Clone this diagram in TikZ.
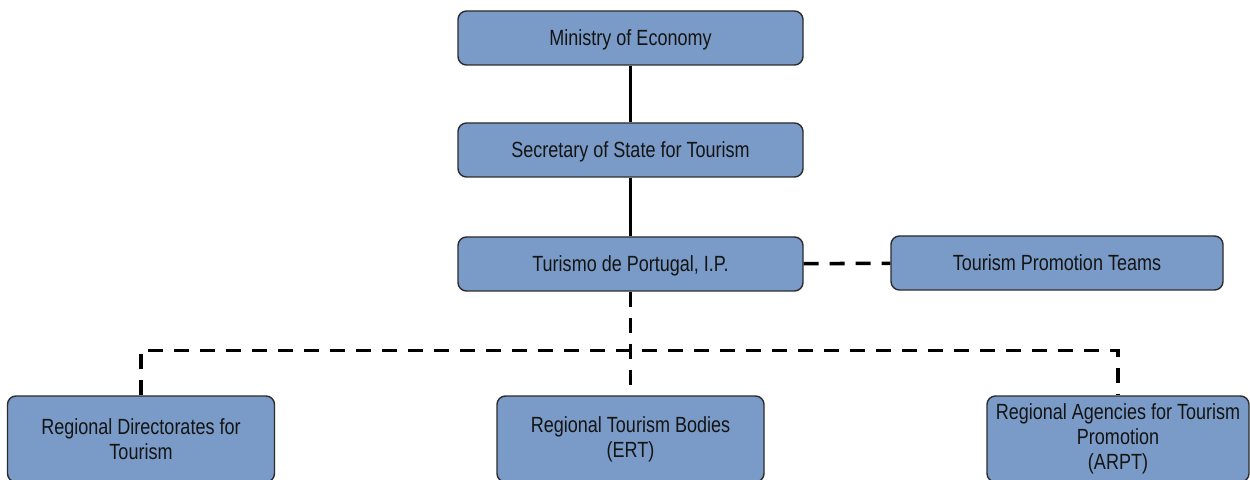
\documentclass[tikz,border=0pt]{standalone}
\usepackage{fontspec}
\setmainfont[FakeStretch=0.82]{Liberation Sans}
\usepackage{xcolor}
\usepackage{tikz}
\definecolor{boxblue}{HTML}{7A9BC7}
\definecolor{boxline}{HTML}{2B2B2B}

\begin{document}
\begin{tikzpicture}[
    unit/.style={draw=boxline, line width=0.8pt, fill=boxblue, rounded corners=0.17cm,
      align=center, text=black!92, inner sep=0pt,
      font=\fontsize{12.5}{14.3}\selectfont},
    topunit/.style={unit, text height=1.7ex, text depth=0pt,
      minimum width=6.9cm, minimum height=1.08cm},
    sideunit/.style={unit, text height=1.7ex, text depth=0pt,
      minimum width=6.64cm, minimum height=1.08cm},
    lowunit/.style={unit, minimum width=5.34cm, minimum height=1.72cm},
    solidlink/.style={line width=1.8pt},
    dashlink/.style={line width=2pt, dash pattern=on 0.3cm off 0.22cm}
  ]
  \path[use as bounding box, clip] (0,0) rectangle (25,9.58);

  % Main line of authority
  \node[topunit] (ministry) at (12.61,8.82) {Ministry of Economy};
  \node[topunit] (secretary) at (12.61,6.58) {Secretary of State for Tourism};
  \node[topunit] (turismo) at (12.61,4.30) {Turismo de Portugal, I.P.};
  \node[sideunit] (teams) at (21.14,4.32) {Tourism Promotion Teams};

  % Regional level
  \node[lowunit] (directorates) at (2.82,0.80) {Regional Directorates for\\Tourism};
  \node[lowunit] (bodies) at (12.61,0.80) {Regional Tourism Bodies\\(ERT)};
  \node[lowunit, minimum width=5.24cm] (agencies) at (22.36,0.80)
    {Regional Agencies for Tourism\\Promotion\\(ARPT)};

  % Links
  \draw[solidlink] (ministry) -- (secretary);
  \draw[solidlink] (secretary) -- (turismo);
  \draw[dashlink] (turismo) -- (teams);
  \draw[dashlink] (turismo.south) -- (bodies.north);
  \draw[dashlink] (directorates.north) -- ++(0,0.9) -| (agencies.north);

\end{tikzpicture}
\end{document}
